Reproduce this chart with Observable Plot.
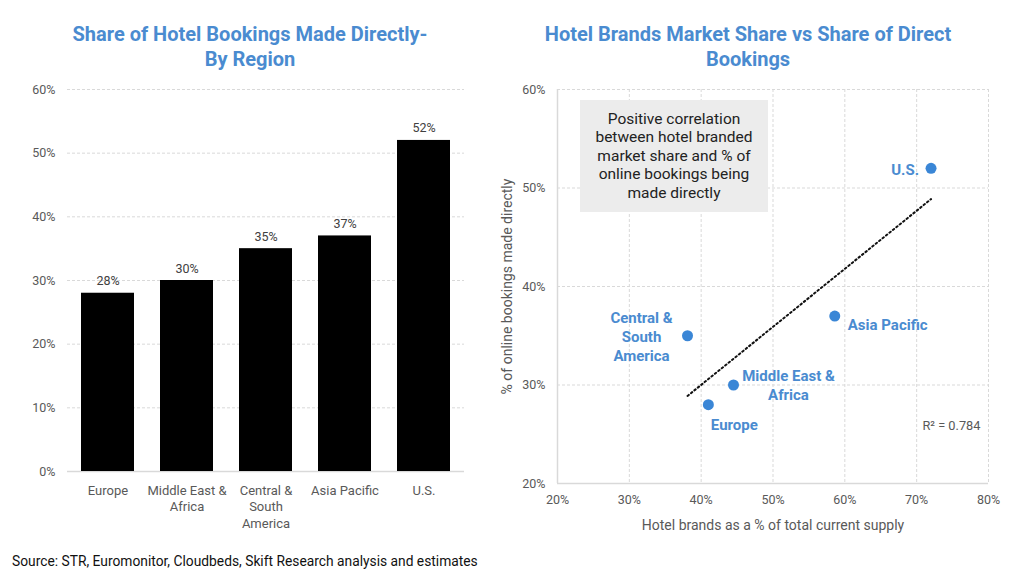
<!DOCTYPE html>
<html>
<head>
<meta charset="utf-8">
<script src="https://cdn.jsdelivr.net/npm/d3@7"></script>
<script src="https://cdn.jsdelivr.net/npm/@observablehq/plot@0.6"></script>
<style>
  html, body { margin: 0; padding: 0; background: #fff; }
  #root { position: relative; width: 1024px; height: 579px; overflow: hidden; font-family: Roboto, "Noto Sans", sans-serif; }
  .title { position: absolute; color: #4a8bd0; font-weight: 700; font-size: 20px; line-height: 25px; text-align: center; }
  .chart { position: absolute; }
  .note { position: absolute; background: #ececec; color: #222; font-size: 15.5px; line-height: 18.4px; text-align: center; box-sizing: border-box; padding-top: 10px; }
  .source { position: absolute; left: 12px; top: 553px; font-size: 13.8px; color: #111; }
</style>
</head>
<body>
<div id="root">
  <div class="title" style="left:0px; top:22px; width:500px;">Share of Hotel Bookings Made Directly-<br>By Region</div>
  <div class="title" style="left:498px; top:22px; width:500px;">Hotel Brands Market Share vs Share of Direct<br>Bookings</div>
  <div id="left" class="chart" style="left:0px; top:80px;"></div>
  <div id="right" class="chart" style="left:500px; top:80px;"></div>
  <div class="note" style="left:580px; top:100px; width:188px; height:112px;">Positive correlation<br>between hotel branded<br>market share and % of<br>online bookings being<br>made directly</div>
  <div class="source">Source: STR, Euromonitor, Cloudbeds, Skift Research analysis and estimates</div>
</div>
<script>
// ---- Data ----
const regions = ["Europe", "Middle East & Africa", "Central & South America", "Asia Pacific", "U.S."];
const regionTickLabels = ["Europe", "Middle East &\nAfrica", "Central &\nSouth\nAmerica", "Asia Pacific", "U.S."];
const directShare = [0.28, 0.30, 0.35, 0.37, 0.52];
const brandShare = [0.41, 0.445, 0.381, 0.586, 0.72];
const scatterLabels = ["Europe", "Middle East &\nAfrica", "Central &\nSouth\nAmerica", "Asia Pacific", "U.S."];
const leftYTicks = [0, 0.1, 0.2, 0.3, 0.4, 0.5, 0.6];
const rightXTicks = [0.2, 0.3, 0.4, 0.5, 0.6, 0.7, 0.8];
const rightYTicks = [0.2, 0.3, 0.4, 0.5, 0.6];
const r2Label = "R\u00B2 = 0.784";

const pct = d3.format(".0%");
const blue = "#3a86d6";
const labelBlue = "#4a8bd0";
const gridColor = "#d9d9d9";

const bars = regions.map((r, i) => ({region: r, value: directShare[i], tick: regionTickLabels[i]}));
const tickMap = new Map(bars.map(d => [d.region, d.tick]));

// ---- Left chart ----
const left = Plot.plot({
  width: 480,
  height: 452,
  marginLeft: 67,
  marginRight: 16,
  marginTop: 9,
  marginBottom: 61,
  style: {fontFamily: "Roboto, sans-serif", fontSize: "12px", color: "#595959", background: "white"},
  x: {domain: regions, paddingInner: 0.33, paddingOuter: 0.165, label: null},
  y: {domain: [0, 0.6], label: null},
  marks: [
    Plot.gridY(leftYTicks.filter(d => d > 0), {stroke: gridColor, strokeOpacity: 1, strokeDasharray: "3,2"}),
    Plot.ruleY([0], {stroke: gridColor, strokeWidth: 1.5}),
    Plot.barY(bars, {x: "region", y: "value", fill: "black"}),
    Plot.text(bars, {x: "region", y: "value", text: d => pct(d.value), dy: -12, fill: "#404040", fontSize: 12.5}),
    Plot.axisY({ticks: leftYTicks, tickFormat: pct, tickSize: 0, tickPadding: 12, fontSize: 12.5, fill: "#595959", label: null}),
    Plot.axisX({tickFormat: d => tickMap.get(d), tickSize: 0, tickPadding: 12, fontSize: 13, fill: "#595959", lineHeight: 1.25, label: null})
  ]
});
document.getElementById("left").appendChild(left);

// ---- Right chart ----
const pts = regions.map((r, i) => ({region: r, x: brandShare[i], y: directShare[i], label: scatterLabels[i]}));
const labelOffsets = {
  "Europe": {dx: 26, dy: 19, anchor: "middle"},
  "Middle East & Africa": {dx: 55, dy: -1, anchor: "middle"},
  "Central & South America": {dx: -46, dy: 0, anchor: "middle"},
  "Asia Pacific": {dx: 13, dy: 8, anchor: "start"},
  "U.S.": {dx: -12, dy: 1, anchor: "end"}
};

const right = Plot.plot({
  width: 524,
  height: 458,
  marginLeft: 57,
  marginRight: 36,
  marginTop: 9,
  marginBottom: 55,
  style: {fontFamily: "Roboto, sans-serif", fontSize: "12px", color: "#595959", background: "white"},
  x: {domain: [0.2, 0.8], label: "Hotel brands as a % of total current supply", labelAnchor: "center", labelArrow: "none", labelOffset: 46},
  y: {domain: [0.2, 0.6], label: "% of online bookings made directly", labelAnchor: "center", labelArrow: "none", labelOffset: 54},
  marks: [
    Plot.gridX(rightXTicks.filter(d => d > 0.2), {stroke: gridColor, strokeOpacity: 1, strokeDasharray: "3,2"}),
    Plot.gridY(rightYTicks.filter(d => d > 0.2), {stroke: gridColor, strokeOpacity: 1, strokeDasharray: "3,2"}),
    Plot.ruleY([0.2], {stroke: gridColor, strokeWidth: 1.5}),
    Plot.ruleX([0.2], {stroke: gridColor, strokeWidth: 1.5}),
    Plot.linearRegressionY(pts, {x: "x", y: "y", ci: 0, stroke: "#111", strokeWidth: 2, strokeDasharray: "1.6,2.8"}),
    Plot.dot(pts, {x: "x", y: "y", r: 5.5, fill: blue}),
    ...pts.map(p => Plot.text([p], {
      x: "x", y: "y", text: "label",
      dx: labelOffsets[p.region].dx, dy: labelOffsets[p.region].dy,
      textAnchor: labelOffsets[p.region].anchor, lineAnchor: "middle",
      fill: labelBlue, fontWeight: 700, fontSize: 15, lineHeight: 1.27
    })),
    Plot.text([r2Label], {frameAnchor: "bottom-right", dx: -8, dy: -54, fill: "#595959", fontSize: 12.8, textAnchor: "end"}),
    Plot.axisY({ticks: rightYTicks, tickFormat: pct, tickSize: 0, tickPadding: 12, fontSize: 12.5, fill: "#595959", label: "% of online bookings made directly", labelAnchor: "center", labelArrow: "none", labelOffset: 55}),
    Plot.axisX({ticks: rightXTicks, tickFormat: pct, tickSize: 0, tickPadding: 12, fontSize: 12.5, fill: "#595959", label: "Hotel brands as a % of total current supply", labelAnchor: "center", labelArrow: "none", labelOffset: 46})
  ]
});
document.getElementById("right").appendChild(right);
// enlarge axis titles only
right.querySelectorAll("g[aria-label='y-axis label'] text, g[aria-label='x-axis label'] text").forEach(t => t.setAttribute("font-size", "14"));
right.querySelectorAll("g[aria-label='y-axis label'], g[aria-label='x-axis label']").forEach(g => g.setAttribute("font-size", "14"));
</script>
</body>
</html>
